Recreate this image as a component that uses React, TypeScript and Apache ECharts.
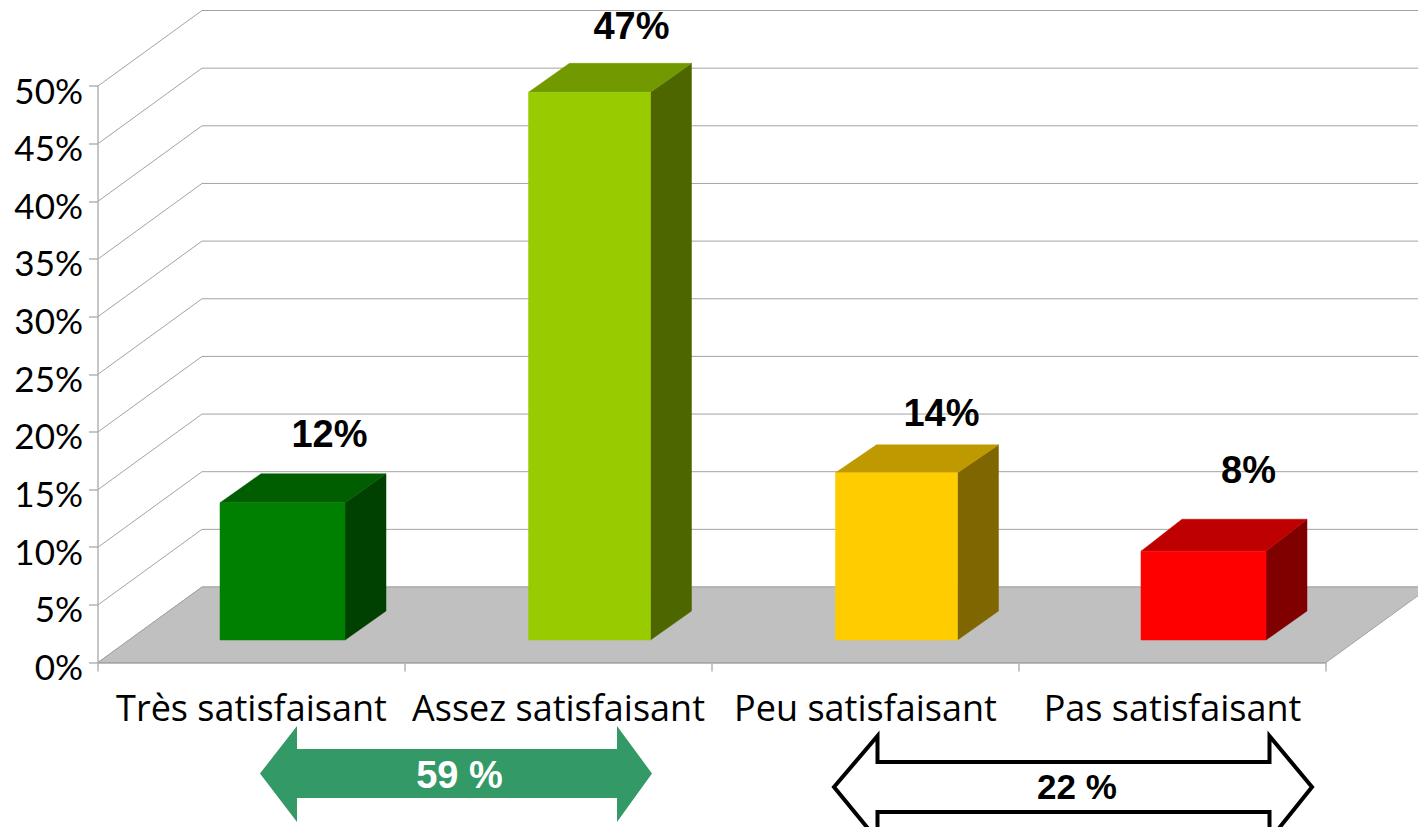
import React, { useEffect, useRef } from "react";
import * as echarts from "echarts";

const categories = ["Très satisfaisant", "Assez satisfaisant", "Peu satisfaisant", "Pas satisfaisant"];
const barHeights = [11.9, 47.5, 14.5, 7.7];
const barLabels = ["12%", "47%", "14%", "8%"];
const yTicks = [0, 5, 10, 15, 20, 25, 30, 35, 40, 45, 50];
const frontColors = ["#008000", "#99cc00", "#ffcc00", "#ff0000"];
const topColors = ["#005e00", "#739900", "#bf9900", "#bf0000"];
const sideColors = ["#004000", "#4d6600", "#806600", "#800000"];
const labelShift = [[47, -69], [42, -66], [45, -60], [45, -81]];
const barWidths = [125, 122, 122, 125];
const sideRise = [-29, -29, -28, -32];

const DEPTH_X = 104;
const DEPTH_Y = -75.5;
const BAR_DX = 31;
const BAR_FLOOR = 22.5;
const SIDE_X = 41;
const BOLD = "'Liberation Sans'";

const poly = (points: number[][], fill: string) => ({ type: "polygon", shape: { points }, style: { fill, stroke: fill, lineWidth: 0.5 } });

const option: any = {
  animation: false,
  backgroundColor: "#ffffff",
  grid: { left: 98, right: 92, top: 86, bottom: 164.5, containLabel: false },
  xAxis: {
    type: "category",
    data: categories,
    axisLine: { lineStyle: { color: "#a6a6a6", width: 1.5 } },
    axisTick: { show: true, length: 9, lineStyle: { color: "#b3b3b3", width: 1.5 } },
    axisLabel: { color: "#000", fontFamily: "'Open Sans'", fontSize: 36, margin: 27, interval: 0 },
    z: 3,
  },
  yAxis: {
    type: "value",
    min: 0,
    max: 50,
    interval: 5,
    splitLine: { show: false },
    axisLine: { show: true, lineStyle: { color: "#b3b3b3", width: 1.5 } },
    axisTick: { show: true, length: 9, lineStyle: { color: "#b3b3b3", width: 1.5 } },
    axisLabel: {
      margin: 15,
      formatter: "{a|{value}%}",
      rich: { a: { color: "#000", fontFamily: "Lato", fontSize: 35, padding: [7, 0, 0, 0] } },
    },
  },
  series: [
    {
      type: "custom",
      name: "walls",
      z: 1,
      silent: true,
      data: yTicks.map((v) => [0, v]),
      encode: { x: 0, y: 1 },
      renderItem: (params: any, api: any) => {
        const y = api.coord([0, api.value(1)])[1];
        const x0 = params.coordSys.x;
        const style = { stroke: "#a3a3a3", lineWidth: 1, fill: "none" };
        return {
          type: "group",
          children: [
            { type: "line", shape: { x1: x0, y1: y, x2: x0 + DEPTH_X, y2: y + DEPTH_Y }, style },
            { type: "line", shape: { x1: x0 + DEPTH_X, y1: y + DEPTH_Y, x2: 1418, y2: y + DEPTH_Y }, style },
          ],
        };
      },
    },
    {
      type: "custom",
      name: "floor",
      z: 2,
      silent: true,
      data: [[0, 0]],
      encode: { x: 0, y: 1 },
      renderItem: (params: any, api: any) => {
        const y = api.coord([0, 0])[1];
        const { x, width } = params.coordSys;
        return {
          type: "polygon",
          shape: { points: [[x, y], [x + width, y], [x + width + DEPTH_X, y + DEPTH_Y], [x + DEPTH_X, y + DEPTH_Y]] },
          style: { fill: "#c0c0c0", stroke: "#a3a3a3", lineWidth: 1 },
        };
      },
    },
    {
      type: "custom",
      name: "bars",
      z: 4,
      silent: true,
      data: barHeights.map((v, i) => [i, v]),
      encode: { x: 0, y: 1 },
      renderItem: (params: any, api: any) => {
        const i = params.dataIndex;
        const [cx, topRaw] = api.coord([i, api.value(1)]);
        const bottom = api.coord([i, 0])[1] - BAR_FLOOR;
        const top = topRaw - BAR_FLOOR;
        const l = cx + BAR_DX - barWidths[i] / 2;
        const r = l + barWidths[i];
        const mid = cx + BAR_DX;
        const rise = sideRise[i];
        return {
          type: "group",
          children: [
            poly([[r, bottom], [r + SIDE_X, bottom - 29], [r + SIDE_X, top + rise], [r, top]], sideColors[i]),
            poly([[l, top], [r, top], [r + SIDE_X, top + rise], [l + SIDE_X, top + rise]], topColors[i]),
            poly([[l, top], [r, top], [r, bottom], [l, bottom]], frontColors[i]),
            {
              type: "text",
              style: {
                x: mid + labelShift[i][0],
                y: top + labelShift[i][1],
                text: barLabels[i],
                fill: "#000",
                font: `bold 38px ${BOLD}`,
                textAlign: "center",
                textVerticalAlign: "middle",
              },
            },
          ],
        };
      },
    },
  ],
  graphic: [
    {
      type: "polygon",
      z: 10,
      shape: { points: [[260, 773.5], [297, 726], [297, 749], [617, 749], [617, 726], [652, 773.5], [617, 822], [617, 798], [297, 798], [297, 822]] },
      style: { fill: "#339966" },
    },
    {
      type: "text",
      z: 11,
      style: { x: 459.5, y: 775, text: "59 %", fill: "#fff", font: `bold 38px ${BOLD}`, textAlign: "center", textVerticalAlign: "middle" },
    },
    {
      type: "polygon",
      z: 10,
      shape: { points: [[834, 787], [877.5, 736], [877.5, 762], [1269.5, 762], [1269.5, 736], [1312, 787], [1269.5, 840], [1269.5, 812], [877.5, 812], [877.5, 840]] },
      style: { fill: "#fff", stroke: "#000", lineWidth: 4, lineJoin: "miter" },
    },
    {
      type: "text",
      z: 11,
      style: { x: 1077, y: 786, text: "22 %", fill: "#000", font: `bold 35px ${BOLD}`, textAlign: "center", textVerticalAlign: "middle" },
    },
  ],
};

export default function App() {
  const ref = useRef<HTMLDivElement>(null);
  useEffect(() => {
    const chart = echarts.init(ref.current!, undefined, { renderer: "svg" });
    chart.setOption(option);
    return () => chart.dispose();
  }, []);
  return <div ref={ref} style={{ position: "absolute", left: 0, top: 0, width: 1418, height: 827, overflow: "hidden" }} />;
}
